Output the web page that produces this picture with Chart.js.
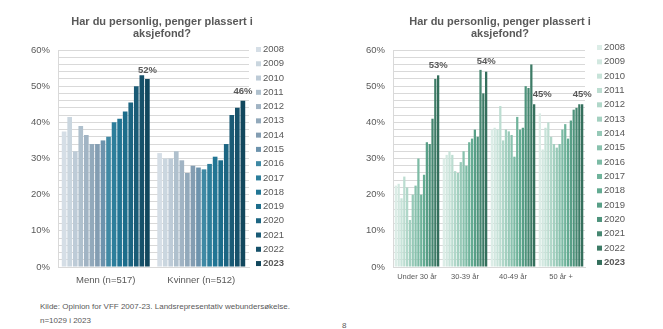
<!DOCTYPE html>
<html lang="no">
<head>
<meta charset="utf-8">
<title>Har du personlig, penger plassert i aksjefond?</title>
<script src="https://cdn.jsdelivr.net/npm/chart.js@4.4.1/dist/chart.umd.min.js"></script>
<style>
  html, body { margin: 0; padding: 0; background: #fff; }
  body { width: 663px; height: 329px; position: relative; overflow: hidden;
         font-family: "Liberation Sans", Arial, sans-serif; color: #595959; }
  canvas { position: absolute; top: 0; }
  .note { position: absolute; font-size: 8px; white-space: nowrap; }
</style>
</head>
<body>
<canvas id="genderChart" width="330" height="300" style="left:0"></canvas>
<canvas id="ageChart" width="333" height="300" style="left:330px"></canvas>
<div class="note" style="left:40px;top:302px">Kilde: Opinion for VFF 2007-23. Landsrepresentativ webundersøkelse.</div>
<div class="note" style="left:40px;top:316px">n=1029 i 2023</div>
<div class="note" style="left:342px;top:321px">8</div>

<script>
const years = ['2008', '2009', '2010', '2011', '2012', '2013', '2014', '2015',
               '2016', '2017', '2018', '2019', '2020', '2021', '2022', '2023'];

// Kjønn
const genderCats = ['Menn (n=517)', 'Kvinner (n=512)'];
const menn    = [37.5, 41.5, 32, 39, 36.5, 34, 34, 35, 36, 40, 41, 43, 45.5, 50, 53, 52];
const kvinner = [31.5, 30, 30, 32, 29.5, 26, 28, 27.5, 27, 28.5, 30.5, 29.5, 34, 42, 44, 46];

// Alder
const ageCats   = ['Under 30 år', '30-39 år', '40-49 år', '50 år +'];
const under30   = [22.5, 23, 19, 25, 22, 13, 20, 22.5, 30, 20, 25.5, 34.5, 34, 41, 52, 53];
const age30to39 = [30, 31, 32, 31, 26.5, 26, 29, 32, 28, 34.5, 35.5, 38, 36, 54.5, 48, 54];
const age40to49 = [38, 38.5, 38, 44.5, 35, 38, 37.5, 36.5, 30.5, 41.5, 38, 38.5, 50, 49.5, 56, 45];
const age50plus = [42.5, 32.5, 38.5, 40, 36, 34, 33, 34, 38, 39.5, 35.5, 40.5, 43.5, 44, 45, 45];

const yMax = 60;
const yLabelStep = 10;

const blues = ['#d5dee6', '#cad6df', '#bdcbd7', '#afc0cd', '#a1b4c4', '#92a9bb', '#839db2', '#6d93ad',
               '#3f89a4', '#2c7e9b', '#217594', '#1c6d8b', '#1c6582', '#1a5b76', '#16516a', '#11475d'];
const greens = ['#dcede7', '#d2e8e0', '#c7e3d9', '#bcddd1', '#b0d7c9', '#a3d0c0', '#96c9b7', '#89c2ae',
                '#7cbba5', '#6fb39b', '#63ab92', '#589f87', '#4e937c', '#468771', '#3d7b66', '#346f5c'];

const FONT = '"Liberation Sans", Arial, sans-serif';
const TEXT = '#595959';
const GRID = '#d9d9d9';

// Tittel, forklaring og verdi over siste år tegnes rett på lerretet
const decor = {
  id: 'decor',
  afterDraw(chart, args, o) {
    const ctx = chart.ctx;
    ctx.save();
    ctx.fillStyle = TEXT;
    ctx.textBaseline = 'middle';

    ctx.textAlign = 'center';
    ctx.font = 'bold 11px ' + FONT;
    o.title.forEach((line, i) => ctx.fillText(line, o.titleX, o.titleY + i * 12.5));

    ctx.textAlign = 'left';
    chart.data.datasets.forEach((ds, i) => {
      const y = o.legendY + i * o.legendStep;
      ctx.fillStyle = ds.backgroundColor;
      ctx.fillRect(o.legendX, y - 2.5, 5, 5);
      ctx.fillStyle = TEXT;
      ctx.font = (i === chart.data.datasets.length - 1 ? 'bold ' : '') + '9.5px ' + FONT;
      ctx.fillText(ds.label, o.legendX + 7, y);
    });

    // etikett over 2023-søylen, flyttet litt til siden der den ellers treffer naboen
    const last = chart.data.datasets.length - 1;
    const values = chart.data.datasets[last].data;
    ctx.textAlign = 'center';
    ctx.font = 'bold 9.5px ' + FONT;
    chart.getDatasetMeta(last).data.forEach((bar, i) => {
      const dx = (o.labelShift && o.labelShift[i]) || 0;
      ctx.fillText(Math.round(values[i]) + '%', bar.x + dx, bar.y - o.labelGap);
    });
    ctx.restore();
  }
};

function makeChart(id, categories, series, colors, cfg) {
  const datasets = years.map((year, i) => ({
    label: year,
    data: series.map(s => s[i]),
    backgroundColor: colors[i],
    barPercentage: cfg.barPct,
    categoryPercentage: cfg.catPct
  }));

  return new Chart(document.getElementById(id), {
    type: 'bar',
    data: { labels: categories, datasets: datasets },
    options: {
      responsive: false,
      animation: false,
      layout: { padding: { top: 50, right: cfg.padRight, bottom: 8, left: 0 } },
      plugins: {
        legend: { display: false },
        tooltip: { enabled: false },
        decor: cfg.decor
      },
      scales: {
        x: {
          grid: { display: false, drawTicks: false },
          border: { display: true, color: GRID },
          ticks: { color: TEXT, font: { family: FONT, size: cfg.xFont }, padding: cfg.xPad, maxRotation: 0 },
          afterFit: s => { s.height = 25; }
        },
        y: {
          min: 0,
          max: yMax,
          grid: { color: GRID, drawTicks: false },
          border: { display: true, color: GRID },
          ticks: {
            stepSize: 2,
            autoSkip: false,
            padding: 8,
            color: TEXT,
            font: { family: FONT, size: 9.5 },
            callback: v => (v % yLabelStep === 0 ? v + '%' : '')
          },
          afterFit: s => { s.width = cfg.yWidth; }
        }
      }
    },
    plugins: [decor]
  });
}

makeChart('genderChart', genderCats, [menn, kvinner], blues, {
  barPct: 0.84, catPct: 0.93, padRight: 81, yWidth: 58, xFont: 9.5, xPad: 8,
  decor: {
    title: ['Har du personlig, penger plassert i', 'aksjefond?'],
    titleX: 162, titleY: 21.5,
    legendX: 256, legendY: 49.5, legendStep: 14.27,
    labelGap: 9
  }
});

makeChart('ageChart', ageCats, [under30, age30to39, age40to49, age50plus], greens, {
  barPct: 0.8, catPct: 0.94, padRight: 78, yWidth: 63, xFont: 7.5, xPad: 5,
  decor: {
    title: ['Har du personlig, penger plassert i', 'aksjefond?'],
    titleX: 170, titleY: 21.5,
    legendX: 267, legendY: 47.5, legendStep: 14.33,
    labelGap: 10,
    labelShift: [0, 0, 8, 0]
  }
});
</script>
</body>
</html>
